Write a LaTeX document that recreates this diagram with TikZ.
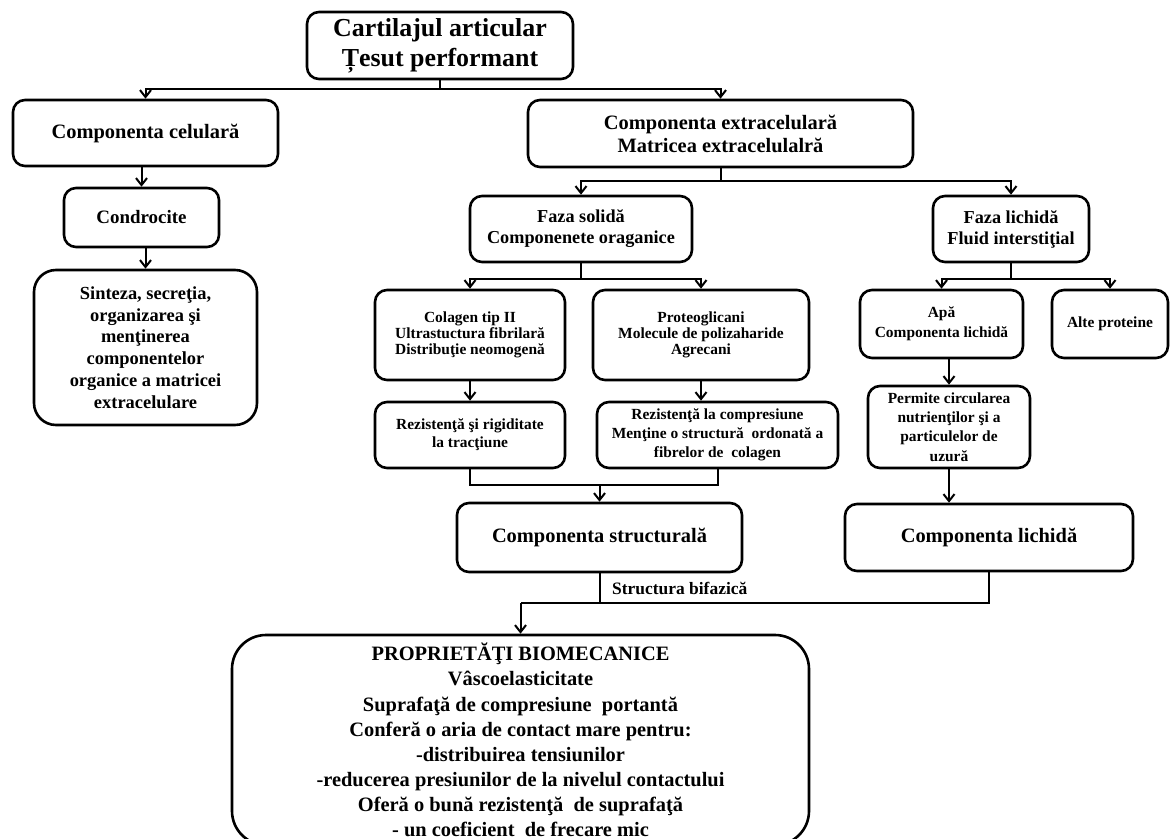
\documentclass[tikz,border=0pt]{standalone}
\usepackage{fontspec}
\setmainfont{Liberation Serif}
\usetikzlibrary{arrows.meta}
\newcommand{\boxfont}[2]{\bfseries\fontsize{#1}{#2}\selectfont}

\begin{document}
\begin{tikzpicture}[x=1bp, y=-1bp, >={Straight Barb[length=7bp,width=11bp]},
  box/.style={draw, line width=2.6bp, rounded corners=12bp, align=center, inner sep=0pt},
  link/.style={line width=2bp}]
\useasboundingbox (0,0) rectangle (1170,839);
%% top level
\node (top) at (440,45.5)
  [box, minimum width=266bp, minimum height=67bp, font=\boxfont{26}{30}]
  {Cartilajul articular\\Țesut performant};
\node (cel) at (145.5,133)
  [box, minimum width=265bp, minimum height=66bp, font=\boxfont{20.5}{23}]
  {Componenta celulară};
\node (extra) at (720.5,133.5)
  [box, minimum width=385bp, minimum height=67bp, font=\boxfont{20.5}{23}]
  {Componenta extracelulară\\Matricea extracelulalră};
%% cellular side
\node (cond) at (141.5,217.5)
  [box, minimum width=155bp, minimum height=59bp, font=\boxfont{19}{22}]
  {Condrocite};
\node (sint) at (145.5,347.5)
  [box, rounded corners=22bp, minimum width=223bp, minimum height=155bp, font=\boxfont{18.5}{21.8}]
  {Sinteza, secreţia,\\organizarea şi\\menţinerea\\componentelor\\organice a matricei\\extracelulare};
%% extracellular side
\node (solid) at (581,229)
  [box, minimum width=222bp, minimum height=66bp, font=\boxfont{18.3}{21}]
  {Faza solidă\\Componenete oraganice};
\node (lichid) at (1011,229)
  [box, minimum width=156bp, minimum height=66bp, font=\boxfont{18.3}{21}]
  {Faza lichidă\\Fluid interstiţial};
\node (colagen) at (470,335)
  [box, minimum width=190bp, minimum height=90bp, font=\boxfont{15.5}{16}]
  {Colagen tip II\\Ultrastuctura fibrilară\\Distribuţie neomogenă};
\node (proteo) at (701,335)
  [box, minimum width=216bp, minimum height=90bp, font=\boxfont{15.5}{16}]
  {Proteoglicani\\Molecule de polizaharide\\Agrecani};
\node (apa) at (941.5,324)
  [box, minimum width=163bp, minimum height=68bp, font=\boxfont{15.5}{20}]
  {Apă\\Componenta lichidă};
\node (alte) at (1110,324)
  [box, minimum width=116bp, minimum height=68bp, font=\boxfont{15.5}{20}]
  {Alte proteine};
\node (rtract) at (470,435)
  [box, minimum width=190bp, minimum height=66bp, font=\boxfont{15.5}{18}]
  {Rezistenţă şi rigiditate\\la tracţiune};
\node (rcomp) at (717.5,435)
  [box, minimum width=241bp, minimum height=66bp, font=\boxfont{15.5}{19}]
  {Rezistenţă la compresiune\\Menţine o structură~ ordonată a\\fibrelor de~ colagen};
\node (permite) at (949,427)
  [box, minimum width=162bp, minimum height=82bp, font=\boxfont{15.5}{19.5}]
  {Permite circularea\\nutrienţilor şi a\\particulelor de\\uzură};
\node (struct) at (599.5,537.5)
  [box, minimum width=285bp, minimum height=69bp, font=\boxfont{20.5}{23}]
  {Componenta structurală};
\node (complich) at (989,537.5)
  [box, minimum width=288bp, minimum height=67bp, font=\boxfont{20.5}{23}]
  {Componenta lichidă};
\node (bif) at (612,588)
  [anchor=west, inner sep=0pt, font=\boxfont{17.5}{20}]
  {Structura bifazică};
\node (prop) at (520.5,740)
  [box, rounded corners=34bp, minimum width=577bp, minimum height=210bp, font=\boxfont{20.5}{25.2}]
  {PROPRIETĂŢI BIOMECANICE\\Vâscoelasticitate\\Suprafaţă de compresiune~ portantă\\Conferă o aria de contact mare pentru:\\-distribuirea tensiunilor\\-reducerea presiunilor de la nivelul contactului\\Oferă o bună rezistenţă~ de suprafaţă\\- un coeficient~ de frecare mic};

\coordinate (j_res) at (599.5,485);
\coordinate (j_bif) at (520.5,603);

\draw [->, link] (top.south) -- ++(0,9) -| (cel.north);
\draw [->, link] (top.south) -- ++(0,9) -| (extra.north);
\draw [->, link] (cond.north |- cel.south) -- (cond.north);
\draw [->, link] (sint.north |- cond.south) -- (sint.north);

\draw [->, link] (extra.south) -- ++(0,13) -| (solid.north);
\draw [->, link] (extra.south) -- ++(0,13) -| (lichid.north);
\draw [->, link] (solid.south) -- ++(0,16) -| (colagen.north);
\draw [->, link] (solid.south) -- ++(0,16) -| (proteo.north);
\draw [->, link] (lichid.south) -- ++(0,16) -| (apa.north);
\draw [->, link] (lichid.south) -- ++(0,16) -| (alte.north);

\draw [->, link] (colagen.south) -- (rtract.north);
\draw [->, link] (proteo.south) -- (proteo.south |- rcomp.north);
\draw [link] (rtract.south) |- (j_res) -| (rcomp.south);
\draw [->, link] (j_res) -- (struct.north);

\draw [->, link] (permite.north |- apa.south) -- (permite.north);
\draw [->, link] (permite.south) -- (permite.south |- complich.north);

\draw [link] (struct.south) |- (j_bif);
\draw [link] (complich.south) |- (j_bif);
\draw [->, link] (j_bif) -- (prop.north);
\end{tikzpicture}
\end{document}
